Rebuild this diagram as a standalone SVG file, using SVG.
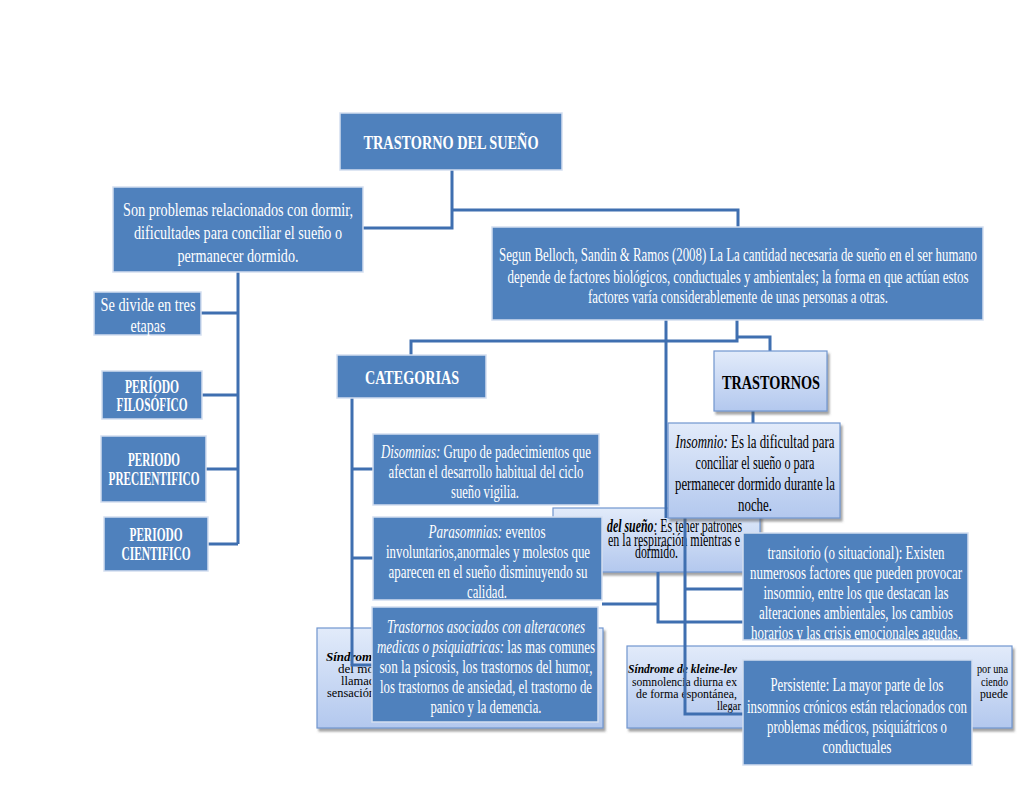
<svg xmlns="http://www.w3.org/2000/svg" width="1024" height="791" viewBox="0 0 1024 791">
<defs>
<linearGradient id="lg" x1="0" y1="0" x2="0" y2="1">
<stop offset="0" stop-color="#e2ebfa"/>
<stop offset="1" stop-color="#b3c8ee"/>
</linearGradient>
<filter id="sh" x="-10%" y="-10%" width="125%" height="130%">
<feDropShadow dx="2" dy="3" stdDeviation="1.2" flood-color="#555" flood-opacity="0.55"/>
</filter>
<style>
.dk{fill:#4f81bd;stroke:#d3def0;stroke-width:1.5}
.lt{fill:url(#lg);stroke:#7196cf;stroke-width:1.2;filter:url(#sh)}
.w{font-family:"Liberation Serif","Times New Roman",serif;fill:#fff;text-anchor:middle;font-size:18px}
.k{font-family:"Liberation Serif","Times New Roman",serif;fill:#000;font-size:18px}
.s{font-size:13px}
.m{text-anchor:middle}
.bd{font-weight:bold}
.it{font-style:italic}
.c{fill:none;stroke:#3f6fb0;stroke-width:3}
</style>
</defs>
<rect width="1024" height="791" fill="#fff"/>

<g id="sindrome-left">
<rect class="lt" x="317" y="628" width="286" height="100"/>
<text class="k s" x="326" y="661" textLength="52" lengthAdjust="spacingAndGlyphs"><tspan class="bd it">Síndrome</tspan></text>
<text class="k s" x="338" y="673" textLength="36" lengthAdjust="spacingAndGlyphs">del mo</text>
<text class="k s" x="341" y="685" textLength="34" lengthAdjust="spacingAndGlyphs">llamad</text>
<text class="k s" x="327" y="697" textLength="48" lengthAdjust="spacingAndGlyphs">sensación</text>
</g>
<g id="kleine-levin">
<rect class="lt" x="627" y="646" width="385" height="82"/>
<text class="k s" x="628" y="673" textLength="109" lengthAdjust="spacingAndGlyphs"><tspan class="bd it">Síndrome de kleine-lev</tspan></text>
<text class="k s" x="632" y="686" textLength="105" lengthAdjust="spacingAndGlyphs">somnolencia diurna ex</text>
<text class="k s" x="636" y="698" textLength="101" lengthAdjust="spacingAndGlyphs">de forma espontánea,</text>
<text class="k s" x="717" y="710" textLength="24" lengthAdjust="spacingAndGlyphs">llegar</text>
<text class="k s" x="977" y="673" textLength="31" lengthAdjust="spacingAndGlyphs">por una</text>
<text class="k s" x="981" y="686" textLength="27" lengthAdjust="spacingAndGlyphs">ciendo</text>
<text class="k s" x="980" y="698" textLength="28" lengthAdjust="spacingAndGlyphs">puede</text>
</g>
<g id="apnea">
<rect class="lt" x="553" y="508" width="207" height="64"/>
<text class="k" font-size="13" x="607" y="532" textLength="135" lengthAdjust="spacingAndGlyphs"><tspan class="bd it">del sueño</tspan><tspan class="it">:</tspan> Es tener patrones</text>
<text class="k" font-size="13" x="608" y="546" textLength="132" lengthAdjust="spacingAndGlyphs">en la respiración mientras e</text>
<text class="k" font-size="13" x="635" y="558" textLength="43" lengthAdjust="spacingAndGlyphs">dormido.</text>
</g>

<g id="connectors">
<path class="c" d="M452,170 V228 H363"/>
<path class="c" d="M452,210 H738 V227"/>
<path class="c" d="M238,272 V544"/>
<path class="c" d="M238,313 H201 M238,395 H202 M238,469 H206 M238,544 H208"/>
<path class="c" d="M737,320 V341 H411 V355"/>
<path class="c" d="M737,337 H770 V351"/>
<path class="c" d="M666,320 V518"/>
<path class="c" d="M753,411 V423"/>
<path class="c" d="M352,398 V665 H372"/>
<path class="c" d="M352,469 H373 M352,558 H373"/>
<path class="c" d="M685,518 V714 H743"/>
<path class="c" d="M685,589 H743"/>
<path class="c" d="M602,604 H658"/>
<path class="c" d="M658,572 V622 H743"/>
</g>

<g id="title">
<rect class="dk" x="340" y="113" width="222" height="57"/>
<text class="w bd" font-size="21" x="451" y="149" textLength="175" lengthAdjust="spacingAndGlyphs">TRASTORNO DEL SUEÑO</text>
</g>
<g id="definicion">
<rect class="dk" x="113" y="187" width="250" height="85"/>
<text class="w" font-size="19" x="238" y="216" textLength="230" lengthAdjust="spacingAndGlyphs">Son problemas relacionados con dormir,</text>
<text class="w" font-size="19" x="238" y="239" textLength="208" lengthAdjust="spacingAndGlyphs">dificultades para conciliar el sueño o</text>
<text class="w" font-size="19" x="238" y="262" textLength="121" lengthAdjust="spacingAndGlyphs">permanecer dormido.</text>
</g>
<g id="belloch">
<rect class="dk" x="492" y="227" width="491" height="93"/>
<text class="w" x="738" y="261" textLength="478" lengthAdjust="spacingAndGlyphs">Segun Belloch, Sandin &amp; Ramos (2008) La La cantidad necesaria de sueño en el ser humano</text>
<text class="w" x="738" y="283" textLength="461" lengthAdjust="spacingAndGlyphs">depende de factores biológicos, conductuales y ambientales; la forma en que actúan estos</text>
<text class="w" x="738" y="303" textLength="300" lengthAdjust="spacingAndGlyphs">factores varía considerablemente de unas personas a otras.</text>
</g>
<g id="etapas">
<rect class="dk" x="94" y="292" width="107" height="43"/>
<text class="w" x="148" y="311" textLength="95" lengthAdjust="spacingAndGlyphs">Se divide en tres</text>
<text class="w" x="148" y="332" textLength="35" lengthAdjust="spacingAndGlyphs">etapas</text>
</g>
<g id="filosofico">
<rect class="dk" x="102" y="371" width="100" height="48"/>
<text class="w bd" font-size="16" x="152" y="393" textLength="54" lengthAdjust="spacingAndGlyphs">PERÍODO</text>
<text class="w bd" font-size="16" x="152" y="411" textLength="71" lengthAdjust="spacingAndGlyphs">FILOSÓFICO</text>
</g>
<g id="precientifico">
<rect class="dk" x="101" y="436" width="105" height="66"/>
<text class="w bd" font-size="16" x="154" y="466" textLength="52" lengthAdjust="spacingAndGlyphs">PERIODO</text>
<text class="w bd" font-size="16" x="154" y="485" textLength="91" lengthAdjust="spacingAndGlyphs">PRECIENTIFICO</text>
</g>
<g id="cientifico">
<rect class="dk" x="104" y="517" width="104" height="54"/>
<text class="w bd" font-size="16" x="156" y="541" textLength="53" lengthAdjust="spacingAndGlyphs">PERIODO</text>
<text class="w bd" font-size="16" x="156" y="560" textLength="69" lengthAdjust="spacingAndGlyphs">CIENTIFICO</text>
</g>
<g id="categorias">
<rect class="dk" x="337" y="355" width="149" height="43"/>
<text class="w bd" font-size="19" x="412" y="384" textLength="94" lengthAdjust="spacingAndGlyphs">CATEGORIAS</text>
</g>
<g id="trastornos">
<rect class="lt" x="714" y="351" width="113" height="60"/>
<text class="k m bd" font-size="19" x="771" y="389" textLength="98" lengthAdjust="spacingAndGlyphs">TRASTORNOS</text>
</g>
<g id="disomnias">
<rect class="dk" x="373" y="434" width="226" height="71"/>
<text class="w" x="486" y="458" textLength="210" lengthAdjust="spacingAndGlyphs"><tspan class="it">Disomnias:</tspan> Grupo de padecimientos que</text>
<text class="w" x="486" y="478" textLength="195" lengthAdjust="spacingAndGlyphs">afectan el desarrollo habitual del ciclo</text>
<text class="w" x="485" y="498" textLength="68" lengthAdjust="spacingAndGlyphs">sueño vigilia.</text>
</g>
<g id="parasomnias">
<rect class="dk" x="373" y="517" width="229" height="83"/>
<text class="w" x="487" y="538" textLength="117" lengthAdjust="spacingAndGlyphs"><tspan class="it">Parasomnias:</tspan> eventos</text>
<text class="w" x="488" y="558" textLength="204" lengthAdjust="spacingAndGlyphs">involuntarios,anormales y molestos que</text>
<text class="w" x="488" y="578" textLength="199" lengthAdjust="spacingAndGlyphs">aparecen en el sueño disminuyendo su</text>
<text class="w" x="487" y="598" textLength="40" lengthAdjust="spacingAndGlyphs">calidad.</text>
</g>
<g id="asociados">
<rect class="dk" x="372" y="607" width="226" height="115"/>
<text class="w" x="486" y="633" textLength="198" lengthAdjust="spacingAndGlyphs"><tspan class="it">Trastornos asociados con alteracones</tspan></text>
<text class="w" x="486" y="653" textLength="218" lengthAdjust="spacingAndGlyphs"><tspan class="it">medicas o psiquiatricas:</tspan> las mas comunes</text>
<text class="w" x="486" y="673" textLength="213" lengthAdjust="spacingAndGlyphs">son la psicosis, los trastornos del humor,</text>
<text class="w" x="486" y="693" textLength="212" lengthAdjust="spacingAndGlyphs">los trastornos de ansiedad, el trastorno de</text>
<text class="w" x="486" y="713" textLength="111" lengthAdjust="spacingAndGlyphs">panico y la demencia.</text>
</g>
<g id="insomnio">
<rect class="lt" x="668" y="423" width="172" height="95"/>
<text class="k m" x="755" y="448" textLength="159" lengthAdjust="spacingAndGlyphs"><tspan class="it">Insomnio:</tspan> Es la dificultad para</text>
<text class="k m" x="755" y="469" textLength="119" lengthAdjust="spacingAndGlyphs">conciliar el sueño o para</text>
<text class="k m" x="755" y="490" textLength="160" lengthAdjust="spacingAndGlyphs">permanecer dormido durante la</text>
<text class="k m" x="755" y="511" textLength="34" lengthAdjust="spacingAndGlyphs">noche.</text>
</g>
<g id="transitorio">
<rect class="dk" x="743" y="533" width="225" height="107"/>
<text class="w" x="856" y="559" textLength="177" lengthAdjust="spacingAndGlyphs">transitorio (o situacional): Existen</text>
<text class="w" x="856" y="579" textLength="212" lengthAdjust="spacingAndGlyphs">numerosos factores que pueden provocar</text>
<text class="w" x="856" y="599" textLength="185" lengthAdjust="spacingAndGlyphs">insomnio, entre los que destacan las</text>
<text class="w" x="856" y="619" textLength="194" lengthAdjust="spacingAndGlyphs">alteraciones ambientales, los cambios</text>
<text class="w" x="856" y="639" textLength="210" lengthAdjust="spacingAndGlyphs">horarios y las crisis emocionales agudas.</text>
</g>
<g id="persistente">
<rect class="dk" x="743" y="660" width="229" height="105"/>
<text class="w" x="857" y="691" textLength="173" lengthAdjust="spacingAndGlyphs">Persistente: La mayor parte de los</text>
<text class="w" x="857" y="713" textLength="220" lengthAdjust="spacingAndGlyphs">insomnios crónicos están relacionados con</text>
<text class="w" x="857" y="733" textLength="180" lengthAdjust="spacingAndGlyphs">problemas médicos, psiquiátricos o</text>
<text class="w" x="857" y="753" textLength="69" lengthAdjust="spacingAndGlyphs">conductuales</text>
</g>
</svg>
